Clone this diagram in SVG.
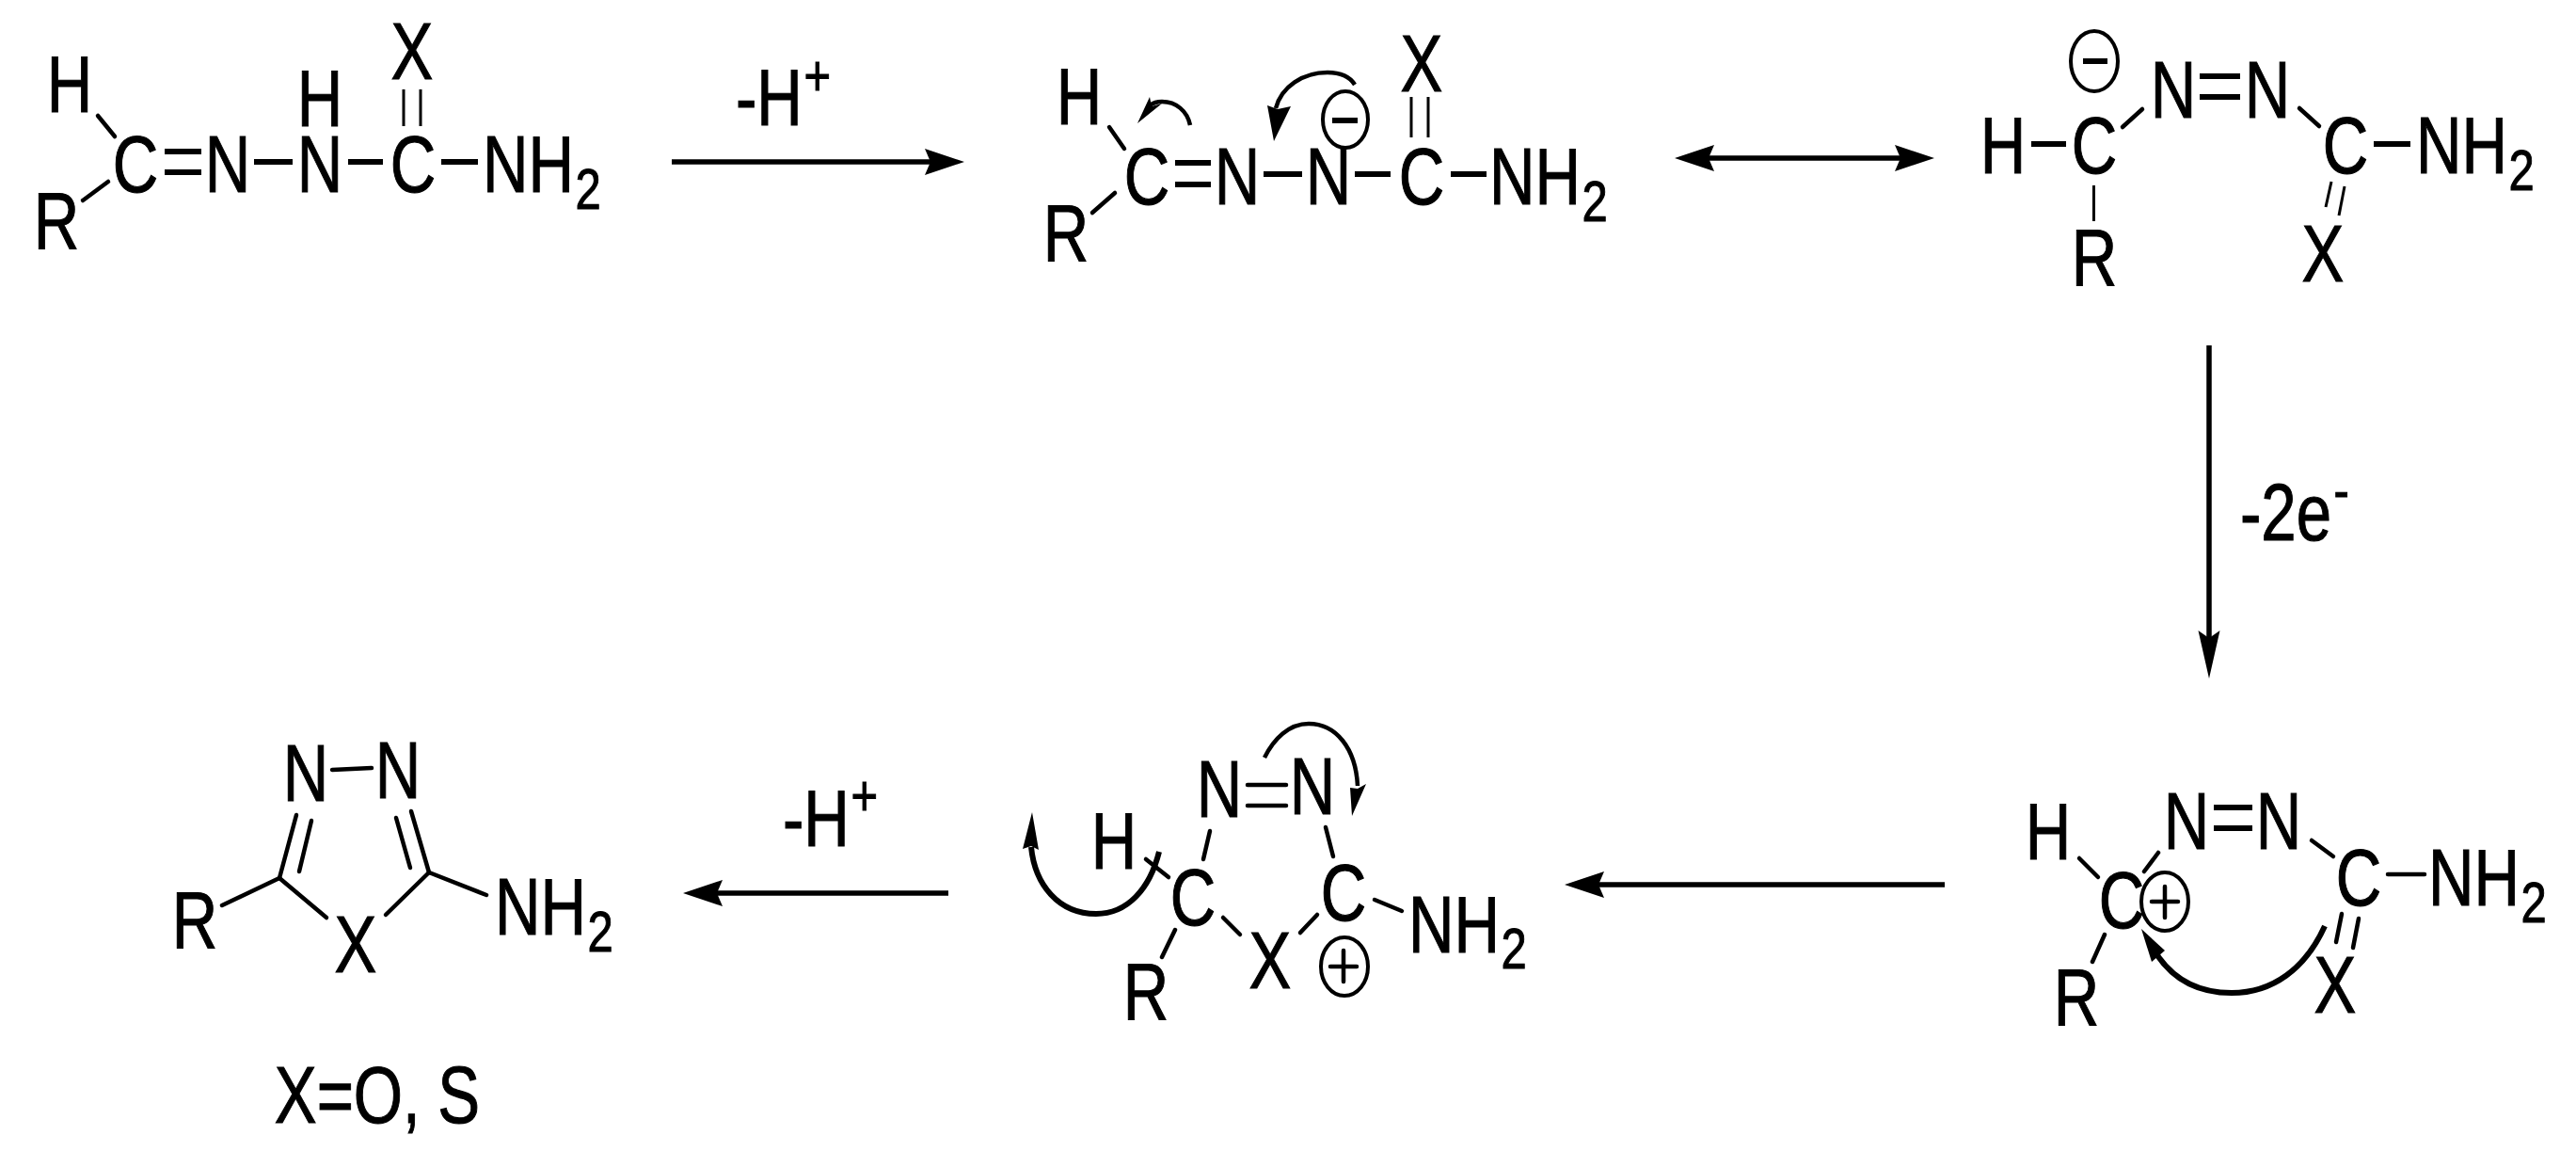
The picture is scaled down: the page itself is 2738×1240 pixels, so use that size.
<svg xmlns="http://www.w3.org/2000/svg" width="2738" height="1240" viewBox="0 0 2738 1240">
<style>
text{font-family:"Liberation Sans",Arial,sans-serif;font-size:85px;fill:#000;stroke:#000;stroke-width:1.1;text-anchor:middle}
text.l{text-anchor:start}
.s{font-size:62px}
line{stroke:#000;stroke-width:4.5;stroke-linecap:round;fill:none}
line.d{stroke-width:6;stroke-linecap:butt}
line.t{stroke-width:3;stroke-linecap:butt}
line.a{stroke-width:5.5;stroke-linecap:butt}
path.c{stroke:#000;stroke-width:6;fill:none}
path.n{stroke-width:4.5}
ellipse{stroke:#000;stroke-width:4;fill:#fff}
polygon{fill:#000}
</style>
<defs>
<marker id="h" markerUnits="userSpaceOnUse" markerWidth="44" markerHeight="30" viewBox="0 0 44 30" refX="6" refY="15" orient="auto-start-reverse"><polygon points="0,1 42,15 0,29 6,15"/></marker>
<marker id="v" markerUnits="userSpaceOnUse" markerWidth="53" markerHeight="25" viewBox="0 0 53 25" refX="8" refY="12.5" orient="auto"><polygon points="0,1 51,12.5 0,24 8,12.5"/></marker>
</defs>
<rect width="2738" height="1240" fill="#fff"/>

<g id="connectors">
<line class="a" x1="714" y1="172" x2="989" y2="172" marker-end="url(#h)"/>
<line class="a" x1="1816" y1="168" x2="2020" y2="168" marker-start="url(#h)" marker-end="url(#h)"/>
<line class="a" x1="2348" y1="367" x2="2348" y2="678" marker-end="url(#v)"/>
<line class="a" x1="2067" y1="940" x2="1699" y2="940" marker-end="url(#h)"/>
<line class="a" x1="1008" y1="949" x2="762" y2="949" marker-end="url(#h)"/>
</g>

<g id="label-minus-h-top"><text class="l" transform="translate(782 133) scale(.79 1)">-H<tspan class="s" dx="2" dy="-32">+</tspan></text></g>
<g id="label-minus-2e"><text class="l" transform="translate(2381 574) scale(.79 1)">-2e<tspan class="s" dx="3" dy="-32">-</tspan></text></g>
<g id="label-minus-h-bottom"><text class="l" transform="translate(832 899) scale(.79 1)">-H<tspan class="s" dx="2" dy="-33">+</tspan></text></g>

<g id="molecule-1">
<text transform="translate(74 119) scale(.79 1)">H</text>
<text transform="translate(144 204) scale(.79 1)">C</text>
<text transform="translate(242 204) scale(.79 1)">N</text>
<text transform="translate(340 204) scale(.79 1)">N</text>
<text transform="translate(340 134) scale(.79 1)">H</text>
<text transform="translate(439 204) scale(.79 1)">C</text>
<text transform="translate(438 84) scale(.79 1)">X</text>
<text class="l" transform="translate(513 204) scale(.79 1)">NH<tspan class="s" dx="2" dy="18">2</tspan></text>
<text transform="translate(60 264) scale(.79 1)">R</text>
<line x1="104" y1="123" x2="122" y2="145"/>
<line x1="115" y1="193" x2="88" y2="213"/>
<line class="d" x1="175" y1="161" x2="214" y2="161"/>
<line class="d" x1="175" y1="183" x2="214" y2="183"/>
<line class="d" x1="270" y1="172" x2="311" y2="172"/>
<line class="d" x1="370" y1="172" x2="407" y2="172"/>
<line class="d" x1="469" y1="172" x2="508" y2="172"/>
<line class="t" x1="429" y1="95" x2="429" y2="134"/>
<line class="t" x1="447" y1="95" x2="447" y2="134"/>
</g>

<g id="molecule-2">
<text transform="translate(1147 132) scale(.79 1)">H</text>
<text transform="translate(1219 217) scale(.79 1)">C</text>
<text transform="translate(1315 217) scale(.79 1)">N</text>
<text transform="translate(1412 217) scale(.79 1)">N</text>
<text transform="translate(1511 217) scale(.79 1)">C</text>
<text transform="translate(1511 97) scale(.79 1)">X</text>
<text class="l" transform="translate(1583 217) scale(.79 1)">NH<tspan class="s" dx="2" dy="18">2</tspan></text>
<text transform="translate(1133 277) scale(.79 1)">R</text>
<line x1="1179" y1="135" x2="1195" y2="158"/>
<line x1="1185" y1="205" x2="1161" y2="226"/>
<line class="d" x1="1249" y1="173" x2="1287" y2="173"/>
<line class="d" x1="1249" y1="196" x2="1287" y2="196"/>
<line class="d" x1="1343" y1="185" x2="1384" y2="185"/>
<line class="d" x1="1440" y1="185" x2="1478" y2="185"/>
<line class="d" x1="1542" y1="185" x2="1580" y2="185"/>
<line class="t" x1="1500" y1="103" x2="1500" y2="146"/>
<line class="t" x1="1518" y1="103" x2="1518" y2="146"/>
<ellipse cx="1430" cy="127" rx="24" ry="30"/>
<line class="d" x1="1416" y1="128" x2="1443" y2="128"/>
<path class="c n" d="M1440 90C1435 82 1425 77 1411 77C1385 77 1362 92 1356 115"/>
<polygon points="1354,150 1347,112 1358,116 1372,113"/>
<path class="c n" d="M1265 133C1262 118 1250 108 1235 108C1230 108 1226 109 1222 112"/>
<polygon points="1209,131 1222,103 1224,113 1235,110"/>
</g>

<g id="molecule-3">
<ellipse cx="2226" cy="65" rx="25" ry="32"/>
<line class="d" x1="2214" y1="65" x2="2240" y2="65"/>
<text transform="translate(2310 125) scale(.79 1)">N</text>
<text transform="translate(2410 125) scale(.79 1)">N</text>
<text transform="translate(2129 184) scale(.79 1)">H</text>
<text transform="translate(2226 184) scale(.79 1)">C</text>
<text transform="translate(2493 184) scale(.79 1)">C</text>
<text class="l" transform="translate(2568 184) scale(.79 1)">NH<tspan class="s" dx="2" dy="18">2</tspan></text>
<text transform="translate(2226 303) scale(.79 1)">R</text>
<text transform="translate(2469 299) scale(.79 1)">X</text>
<line class="d" x1="2338" y1="81" x2="2381" y2="81"/>
<line class="d" x1="2338" y1="103" x2="2381" y2="103"/>
<line class="d" x1="2159" y1="153" x2="2196" y2="153"/>
<line class="d" x1="2523" y1="153" x2="2562" y2="153"/>
<line x1="2256" y1="135" x2="2277" y2="116"/>
<line x1="2444" y1="115" x2="2465" y2="134"/>
<line class="t" x1="2225.500" y1="197" x2="2225.500" y2="235"/>
<line class="t" x1="2478" y1="193" x2="2472" y2="220"/>
<line class="t" x1="2492" y1="198" x2="2486" y2="229"/>
</g>

<g id="molecule-6">
<text transform="translate(2177 913) scale(.79 1)">H</text>
<text transform="translate(2255 986) scale(.79 1)">C</text>
<text transform="translate(2324 902) scale(.79 1)">N</text>
<text transform="translate(2422 902) scale(.79 1)">N</text>
<text transform="translate(2507 962) scale(.79 1)">C</text>
<text class="l" transform="translate(2581 962) scale(.79 1)">NH<tspan class="s" dx="2" dy="18">2</tspan></text>
<text transform="translate(2482 1076) scale(.79 1)">X</text>
<text transform="translate(2207 1089) scale(.79 1)">R</text>
<line x1="2210" y1="912" x2="2230" y2="932"/>
<line x1="2279" y1="926" x2="2294" y2="906"/>
<line x1="2457" y1="893" x2="2480" y2="910"/>
<line x1="2237" y1="993" x2="2224" y2="1022"/>
<line class="d" x1="2353" y1="858" x2="2394" y2="858"/>
<line class="d" x1="2353" y1="880" x2="2394" y2="880"/>
<line x1="2538" y1="929" x2="2577" y2="929"/>
<line x1="2489" y1="971" x2="2483" y2="1001"/>
<line x1="2507" y1="976" x2="2501" y2="1007"/>
<ellipse cx="2301" cy="958" rx="25" ry="31"/>
<line x1="2287" y1="958" x2="2315" y2="958"/>
<line x1="2301" y1="942" x2="2301" y2="975"/>
<path class="c" d="M2471 984C2450 1030 2415 1055 2372 1055C2335 1055 2310 1040 2293 1015"/>
<polygon points="2276,987 2301,1010 2287,1022"/>
</g>

<g id="molecule-5">
<text transform="translate(1296 868) scale(.79 1)">N</text>
<text transform="translate(1395 865) scale(.79 1)">N</text>
<text transform="translate(1184 923) scale(.79 1)">H</text>
<text transform="translate(1268 983) scale(.79 1)">C</text>
<text transform="translate(1428 978) scale(.79 1)">C</text>
<text class="l" transform="translate(1497 1012) scale(.79 1)">NH<tspan class="s" dx="2" dy="17">2</tspan></text>
<text transform="translate(1350 1050) scale(.79 1)">X</text>
<text transform="translate(1218 1083) scale(.79 1)">R</text>
<line x1="1326" y1="834" x2="1367" y2="834"/>
<line x1="1326" y1="856" x2="1367" y2="856"/>
<line x1="1218" y1="913" x2="1242" y2="932"/>
<line x1="1286" y1="883" x2="1279" y2="913"/>
<line x1="1409" y1="879" x2="1417" y2="910"/>
<line x1="1461" y1="956" x2="1490" y2="968"/>
<line x1="1300" y1="975" x2="1318" y2="993"/>
<line x1="1400" y1="972" x2="1382" y2="991"/>
<line x1="1249" y1="988" x2="1235" y2="1017"/>
<ellipse cx="1429" cy="1027" rx="25" ry="31"/>
<line x1="1414" y1="1027" x2="1442" y2="1027"/>
<line x1="1428" y1="1010" x2="1428" y2="1043"/>
<path class="c" d="M1232 905C1222 945 1198 971 1165 971C1125 971 1100 940 1096 900"/>
<polygon points="1097,863 1087,902 1096,899 1104,903"/>
<path class="c n" d="M1344 805C1354 785 1370 769 1391 769C1420 769 1441 795 1443 835"/>
<polygon points="1437,867 1435,837 1443,838 1452,833"/>
</g>

<g id="molecule-4">
<text transform="translate(325 851) scale(.79 1)">N</text>
<text transform="translate(423 848) scale(.79 1)">N</text>
<text transform="translate(207 1007) scale(.79 1)">R</text>
<text transform="translate(378 1033) scale(.79 1)">X</text>
<text class="l" transform="translate(526 993) scale(.79 1)">NH<tspan class="s" dx="2" dy="18">2</tspan></text>
<line x1="353" y1="818" x2="395" y2="816"/>
<line x1="236" y1="962" x2="297" y2="933"/>
<line x1="297" y1="933" x2="347" y2="975"/>
<line x1="297" y1="933" x2="315" y2="866"/>
<line x1="318" y1="926" x2="331" y2="872"/>
<line x1="456" y1="927" x2="410" y2="972"/>
<line x1="456" y1="927" x2="437" y2="862"/>
<line x1="436" y1="922" x2="421" y2="869"/>
<line x1="456" y1="927" x2="517" y2="951"/>
</g>

<g id="legend"><text transform="translate(401 1193) scale(.79 1)">X=O, S</text></g>
</svg>
